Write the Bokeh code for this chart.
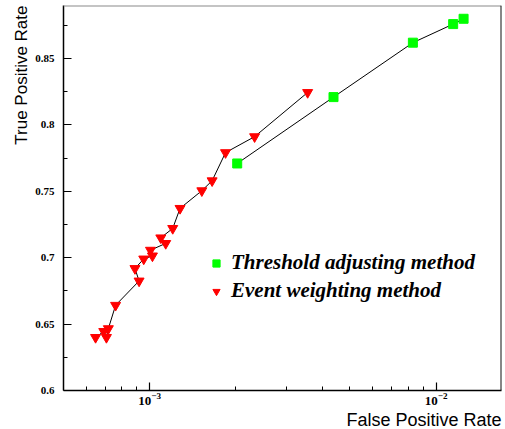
import math
from bokeh.plotting import figure
from bokeh.models import FixedTicker, Legend, LegendItem, Span, LogTickFormatter, Title
from bokeh.embed import file_html
from bokeh.resources import INLINE

# Threshold adjusting method
thr_fpr = [2.02e-3, 4.38e-3, 8.29e-3, 1.146e-2, 1.246e-2]
thr_tpr = [0.771, 0.821, 0.862, 0.876, 0.880]

# Event weighting method
evw_fpr = [6.47e-4, 6.91e-4, 7.06e-4, 7.17e-4, 7.60e-4, 9.18e-4, 8.88e-4, 9.53e-4,
           1.022e-3, 1.006e-3, 1.137e-3, 1.093e-3, 1.203e-3, 1.276e-3, 1.52e-3,
           1.651e-3, 1.839e-3, 2.323e-3, 3.558e-3]
evw_tpr = [0.640, 0.6445, 0.640, 0.6466, 0.6642, 0.6825, 0.6919, 0.6991,
           0.7014, 0.7057, 0.7108, 0.715, 0.7221, 0.7372, 0.7505,
           0.758, 0.7792, 0.7912, 0.8245]

y_ticks = [0.6, 0.65, 0.7, 0.75, 0.8, 0.85]
y_tick_labels = ["0.6", "0.65", "0.7", "0.75", "0.8", "0.85"]
y_minor = [0.625, 0.675, 0.725, 0.775, 0.825, 0.875]
x_ticks = [1e-3, 1e-2]
x_minor = [6e-4, 7e-4, 8e-4, 9e-4, 2e-3, 3e-3, 4e-3, 5e-3, 6e-3, 7e-3, 8e-3, 9e-3]

legend_labels = ["Threshold adjusting method", "Event weighting method"]
x_title = "False Positive Rate"
y_title = "True Positive Rate"

X0, X1 = 5e-4, 0.0169
Y0, Y1 = 0.6, 0.89

p = figure(width=505, height=429, x_axis_type="log",
           x_range=(X0, X1), y_range=(Y0, Y1),
           output_backend="svg", toolbar_location=None,
           min_border_left=63, min_border_right=4, min_border_top=5, min_border_bottom=39)
p.grid.visible = False
p.background_fill_color = "white"
p.border_fill_color = "white"
p.outline_line_color = None

p.add_layout(Span(location=Y1, dimension="width", line_color="#8a8a8a", line_width=2,
                  level="overlay"))
p.add_layout(Span(location=X1, dimension="height", line_color="#111111", line_width=2,
                  level="overlay"))

# axes
xa = p.xaxis[0]
xa.ticker = FixedTicker(ticks=x_ticks, minor_ticks=x_minor)
xa.formatter = LogTickFormatter()
ya = p.yaxis[0]
ya.ticker = FixedTicker(ticks=y_ticks, minor_ticks=y_minor)
ya.major_label_overrides = {t: l for t, l in zip(y_ticks, y_tick_labels)}
for ax in (xa, ya):
    ax.axis_line_color = "black"
    ax.axis_line_width = 1.5
    ax.major_tick_in = 8
    ax.major_tick_out = 0
    ax.minor_tick_in = 4
    ax.minor_tick_out = 0
    ax.major_tick_line_color = "black"
    ax.minor_tick_line_color = "black"
    ax.major_tick_line_width = 1.2
    ax.minor_tick_line_width = 1
    ax.major_label_text_font = "Liberation Serif"
    ax.major_label_text_font_style = "bold"
    ax.major_label_text_font_size = "11px"
    ax.major_label_text_color = "black"
xa.major_label_text_font_size = "13px"
ya.major_label_standoff = 9
xa.major_label_standoff = 2

# lines
p.line(thr_fpr, thr_tpr, line_color="black", line_width=1)
p.line(evw_fpr, evw_tpr, line_color="black", line_width=1)
r_thr = p.scatter(thr_fpr, thr_tpr, marker="square", size=9,
                  fill_color="#00ff00", line_color="#00ff00")
r_evw = p.scatter(evw_fpr, evw_tpr, marker="inverted_triangle", size=10,
                  fill_color="#ff0000", line_color="#ff0000")

legend = Legend(items=[LegendItem(label=legend_labels[0], renderers=[r_thr]),
                       LegendItem(label=legend_labels[1], renderers=[r_evw])],
                location=(144, 87), padding=0, margin=0, spacing=3,
                glyph_width=18, glyph_height=18, label_height=18, label_standoff=6,
                border_line_color=None, background_fill_alpha=0,
                label_text_font="Liberation Serif", label_text_font_style="bold italic",
                label_text_font_size="21px", label_text_color="black")
p.add_layout(legend)

# axis titles
p.add_layout(Title(text=y_title, align="right", standoff=4, offset=0,
                   text_font="Liberation Sans", text_font_size="17px",
                   text_font_style="normal", text_color="black"), "left")
p.add_layout(Title(text=x_title, align="right", standoff=0, offset=0,
                   text_font="Liberation Sans", text_font_size="18px",
                   text_font_style="normal", text_color="black"), "below")

open("out.html", "w").write(file_html(p, INLINE))
